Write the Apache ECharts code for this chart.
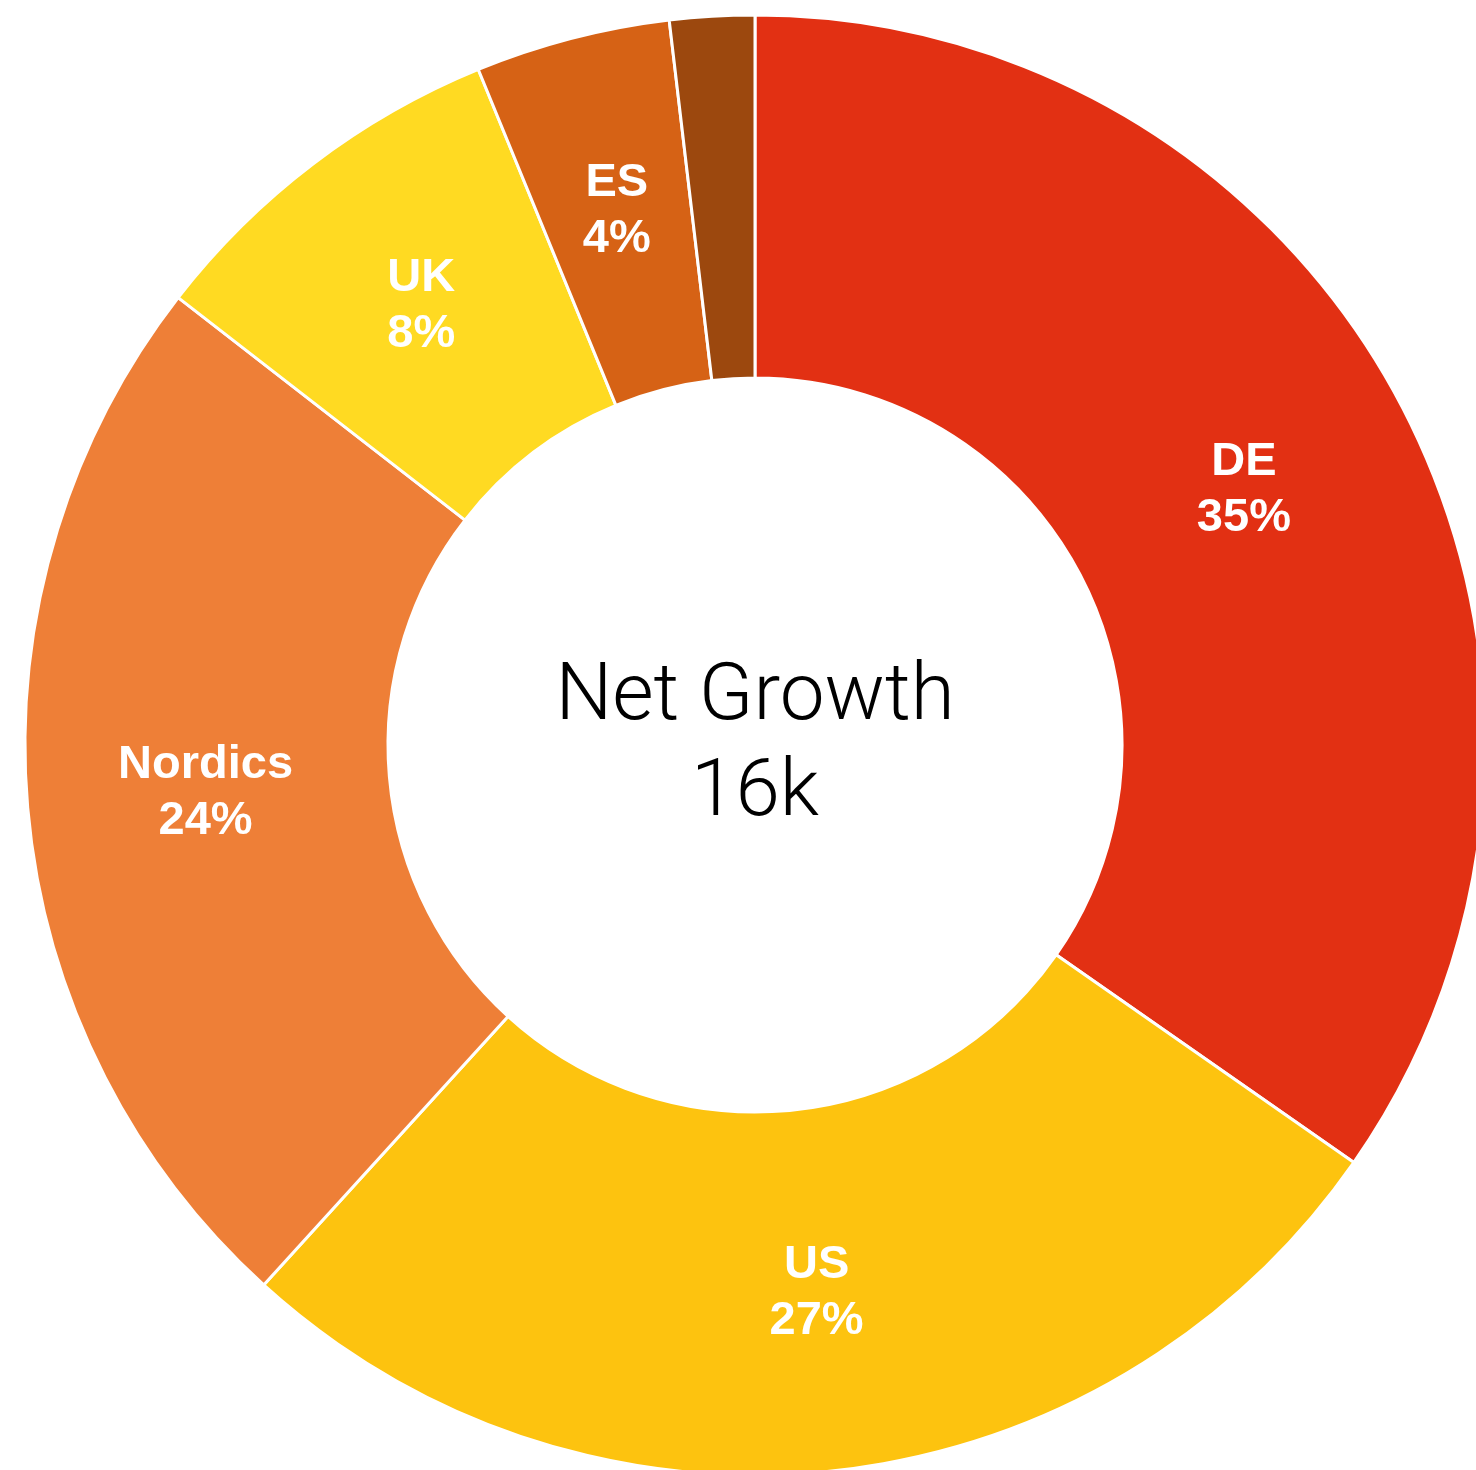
<!DOCTYPE html>
<html>
<head>
<meta charset="utf-8">
<style>
  html, body { margin: 0; padding: 0; background: #fff; }
  #chart { width: 1476px; height: 1470px; }
</style>
<script src="https://cdn.jsdelivr.net/npm/echarts@6/dist/echarts.min.js"></script>
</head>
<body>
<div id="chart"></div>
<script>
// regions, clockwise from 12 o'clock
const regions = ['DE', 'US', 'Nordics', 'UK', 'ES', 'Other']
const netGrowth = [5550, 4330, 3800, 1330, 690, 300]
const colors = ['#E23013', '#FDC30F', '#EE7F37', '#FFDA22', '#D66215', '#9C480E']
const centerTitle = 'Net Growth'

const total = netGrowth.reduce((a, b) => a + b, 0)

const chart = echarts.init(document.getElementById('chart'))

const data = regions.map((name, i) => {
  const item = { name: name, value: netGrowth[i], itemStyle: { color: colors[i] } }
  // the tiny last slice has no label
  if (name === 'Other') item.label = { show: false }
  return item
})

chart.setOption({
  animation: false,
  graphic: [
    {
      type: 'text',
      x: 755,
      y: 747,
      style: {
        text: centerTitle + '\n' + Math.round(total / 1000) + 'k',
        textAlign: 'center',
        textVerticalAlign: 'middle',
        fontFamily: 'Roboto, Liberation Sans, sans-serif',
        fontWeight: 300,
        fontSize: 80,
        lineHeight: 96,
        fill: '#000'
      }
    }
  ],
  series: [
    {
      type: 'pie',
      center: [755, 745],
      radius: [367, 730],
      startAngle: 90,
      clockwise: true,
      silent: true,
      itemStyle: {
        borderColor: '#fff',
        borderWidth: 3
      },
      label: {
        show: true,
        position: 'inside',
        color: '#fff',
        fontFamily: 'Liberation Sans, Arial, sans-serif',
        fontWeight: 'bold',
        fontSize: 47,
        lineHeight: 56,
        formatter(params) {
          return params.name + '\n' + Math.round(params.percent) + '%'
        }
      },
      labelLine: { show: false },
      data: data
    }
  ]
})
</script>
</body>
</html>
